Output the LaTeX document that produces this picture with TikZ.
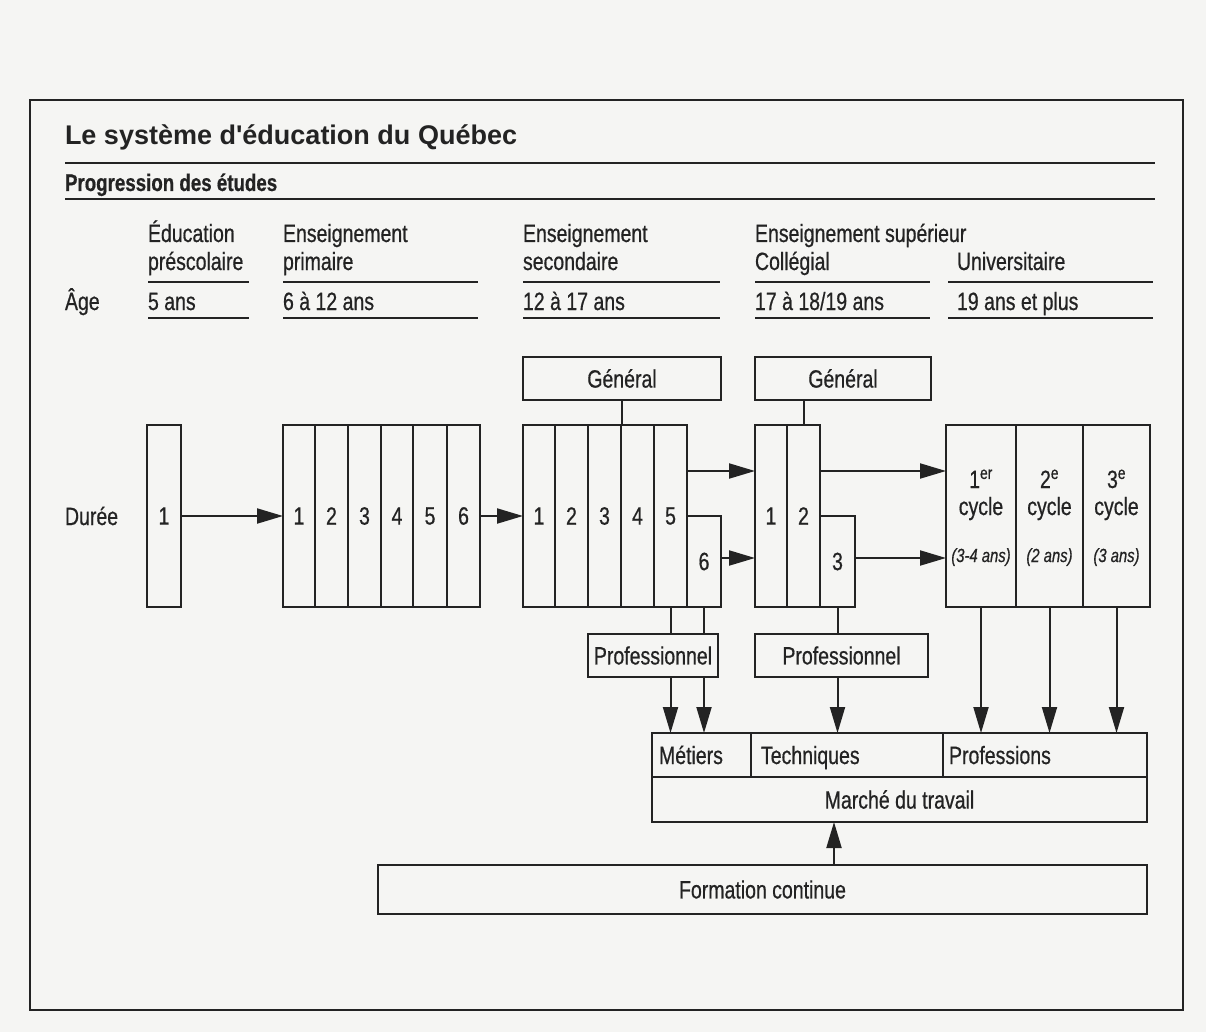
\documentclass[tikz,border=0pt]{standalone}
\usepackage{fontspec}
\setmainfont{Liberation Sans}[FakeStretch=0.78,FakeBold=0.6]
\newfontfamily\titlefont{Liberation Sans}
\usetikzlibrary{arrows.meta}
\definecolor{ink}{RGB}{35,35,35}
\definecolor{paper}{RGB}{245,245,243}
\begin{document}
\begin{tikzpicture}[x=1pt,y=-1pt,
  every node/.style={text=ink, font=\fontsize{25}{28}\selectfont, inner sep=0pt, outer sep=0pt},
  boxn/.style={draw=ink, line width=2pt},
  ln/.style={draw=ink, line width=2pt},
  rule/.style={draw=ink, line width=1.8pt},
  arr/.style={draw=ink, line width=2pt, -{Triangle[length=26pt,width=15pt]}},
  lt/.style={anchor=base west},
  ct/.style={anchor=base}]
\useasboundingbox (0,0) rectangle (1206,1032);
\fill[paper] (0,0) rectangle (1206,1032);
% frame
\node[boxn, line width=1.6pt, minimum width=1153pt, minimum height=910pt] (frame) at (606.5,555) {};
% title
\node[lt, font=\titlefont\bfseries\fontsize{27}{30}\selectfont] (title) at (65,145) {Le système d'éducation du Québec};
\draw[rule] (65,163) -- (1155,163);
\node[lt, font=\bfseries\fontsize{24}{28}\selectfont] (sub) at (65,191) {Progression des études};
\draw[rule] (65,199) -- (1155,199);
% headings
\node[lt] (h1a) at (148,242) {Éducation};
\node[lt] (h1b) at (148,270) {préscolaire};
\node[lt] (h2a) at (283,242) {Enseignement};
\node[lt] (h2b) at (283,270) {primaire};
\node[lt] (h3a) at (523,242) {Enseignement};
\node[lt] (h3b) at (523,270) {secondaire};
\node[lt] (h4a) at (755,242) {Enseignement supérieur};
\node[lt] (h4b) at (755,270) {Collégial};
\node[lt] (h5b) at (957,270) {Universitaire};
\foreach \a/\b in {148/249,283/478,523/720,755/930,948/1153}{
  \draw[rule] (\a,282) -- (\b,282);
  \draw[rule] (\a,318) -- (\b,318);
}
\node[lt] (age) at (65,310) {Âge};
\node[lt] (ag1) at (148,310) {5 ans};
\node[lt] (ag2) at (283,310) {6 à 12 ans};
\node[lt] (ag3) at (523,310) {12 à 17 ans};
\node[lt] (ag4) at (755,310) {17 à 18/19 ans};
\node[lt] (ag5) at (957,310) {19 ans et plus};
\node[lt] (duree) at (65,525) {Durée};
% preschool
\node[boxn, minimum width=34pt, minimum height=182pt] (pre) at (164,516) {1};
% primary
\node[boxn, minimum width=32pt, minimum height=182pt] (p1) at (299,516) {1};
\node[boxn, minimum width=33pt, minimum height=182pt] (p2) at (331.5,516) {2};
\node[boxn, minimum width=33pt, minimum height=182pt] (p3) at (364.5,516) {3};
\node[boxn, minimum width=32pt, minimum height=182pt] (p4) at (397,516) {4};
\node[boxn, minimum width=34pt, minimum height=182pt] (p5) at (430,516) {5};
\node[boxn, minimum width=33pt, minimum height=182pt] (p6) at (463.5,516) {6};
% secondary
\node[boxn, minimum width=198pt, minimum height=43pt] (g1) at (622,378.5) {Général};
\node[boxn, minimum width=32pt, minimum height=182pt] (s1) at (539,516) {1};
\node[boxn, minimum width=33pt, minimum height=182pt] (s2) at (571.5,516) {2};
\node[boxn, minimum width=33pt, minimum height=182pt] (s3) at (604.5,516) {3};
\node[boxn, minimum width=33pt, minimum height=182pt] (s4) at (637.5,516) {4};
\node[boxn, minimum width=33pt, minimum height=182pt] (s5) at (670.5,516) {5};
\node[boxn, minimum width=34pt, minimum height=91pt] (b6) at (704,561.5) {6};
\node[boxn, minimum width=130pt, minimum height=43pt] (pr1) at (653,655.5) {Professionnel};
% college
\node[boxn, minimum width=176pt, minimum height=43pt] (g2) at (843,378.5) {Général};
\node[boxn, minimum width=32pt, minimum height=182pt] (c1) at (771,516) {1};
\node[boxn, minimum width=33pt, minimum height=182pt] (c2) at (803.5,516) {2};
\node[boxn, minimum width=35pt, minimum height=91pt] (c3) at (837.5,561.5) {3};
\node[boxn, minimum width=173pt, minimum height=43pt] (pr2) at (841.5,655.5) {Professionnel};
% university
\node[boxn, minimum width=70pt, minimum height=182pt] (u1) at (981,516) {};
\node[boxn, minimum width=67pt, minimum height=182pt] (u2) at (1049.5,516) {};
\node[boxn, minimum width=67pt, minimum height=182pt] (u3) at (1116.5,516) {};
\node[ct] (u1a) at (981,488) {1\textsuperscript{er}};
\node[ct] (u2a) at (1049.5,488) {2\textsuperscript{e}};
\node[ct] (u3a) at (1116.5,488) {3\textsuperscript{e}};
\node[ct] (u1b) at (981,515) {cycle};
\node[ct] (u2b) at (1049.5,515) {cycle};
\node[ct] (u3b) at (1116.5,515) {cycle};
\node[ct, font=\itshape\fontsize{19}{22}\selectfont] (u1c) at (981,562) {(3-4 ans)};
\node[ct, font=\itshape\fontsize{19}{22}\selectfont] (u2c) at (1049.5,562) {(2 ans)};
\node[ct, font=\itshape\fontsize{19}{22}\selectfont] (u3c) at (1116.5,562) {(3 ans)};
% labour market
\node[boxn, minimum width=99pt, minimum height=44pt] (m1) at (701.5,755) {};
\node[boxn, minimum width=192pt, minimum height=44pt] (m2) at (847,755) {};
\node[boxn, minimum width=204pt, minimum height=44pt] (m3) at (1045,755) {};
\node[lt] (m1t) at (659,764) {Métiers};
\node[lt] (m2t) at (761,764) {Techniques};
\node[lt] (m3t) at (949,764) {Professions};
\node[boxn, minimum width=495pt, minimum height=45pt] (mk) at (899.5,799.5) {Marché du travail};
\node[boxn, minimum width=769pt, minimum height=49pt] (fc) at (762.5,889.5) {Formation continue};
% connectors
\draw[arr] (pre.east) -- (pre.east -| p1.west);
\draw[arr] (p6.east) -- (p6.east -| s1.west);
\coordinate (a1) at ([yshift=45pt]s5.east);
\draw[arr] (a1) -- (a1 -| c1.west);
\coordinate (a2) at ([yshift=3.5pt]b6.east);
\draw[arr] (a2) -- (a2 -| c1.west);
\coordinate (a3) at ([yshift=45pt]c2.east);
\draw[arr] (a3) -- (a3 -| u1.west);
\coordinate (a4) at ([yshift=3.5pt]c3.east);
\draw[arr] (a4) -- (a4 -| u1.west);
\draw[ln] (g1.south) -- (g1.south |- s1.north);
\draw[ln] (g2.south -| c2.north) -- (c2.north);
\draw[ln] (s5.south) -- (s5.south |- pr1.north);
\draw[ln] (b6.south) -- (b6.south |- pr1.north);
\draw[arr] (s5.south |- pr1.south) -- (s5.south |- m1.north);
\draw[arr] (b6.south |- pr1.south) -- (b6.south |- m1.north);
\draw[ln] (c3.south) -- (c3.south |- pr2.north);
\draw[arr] (c3.south |- pr2.south) -- (c3.south |- m2.north);
\draw[arr] (u1.south) -- (u1.south |- m3.north);
\draw[arr] (u2.south) -- (u2.south |- m3.north);
\draw[arr] (u3.south) -- (u3.south |- m3.north);
\coordinate (f0) at ([xshift=71.5pt]fc.north);
\draw[arr] (f0) -- (f0 |- mk.south);
\end{tikzpicture}
\end{document}
